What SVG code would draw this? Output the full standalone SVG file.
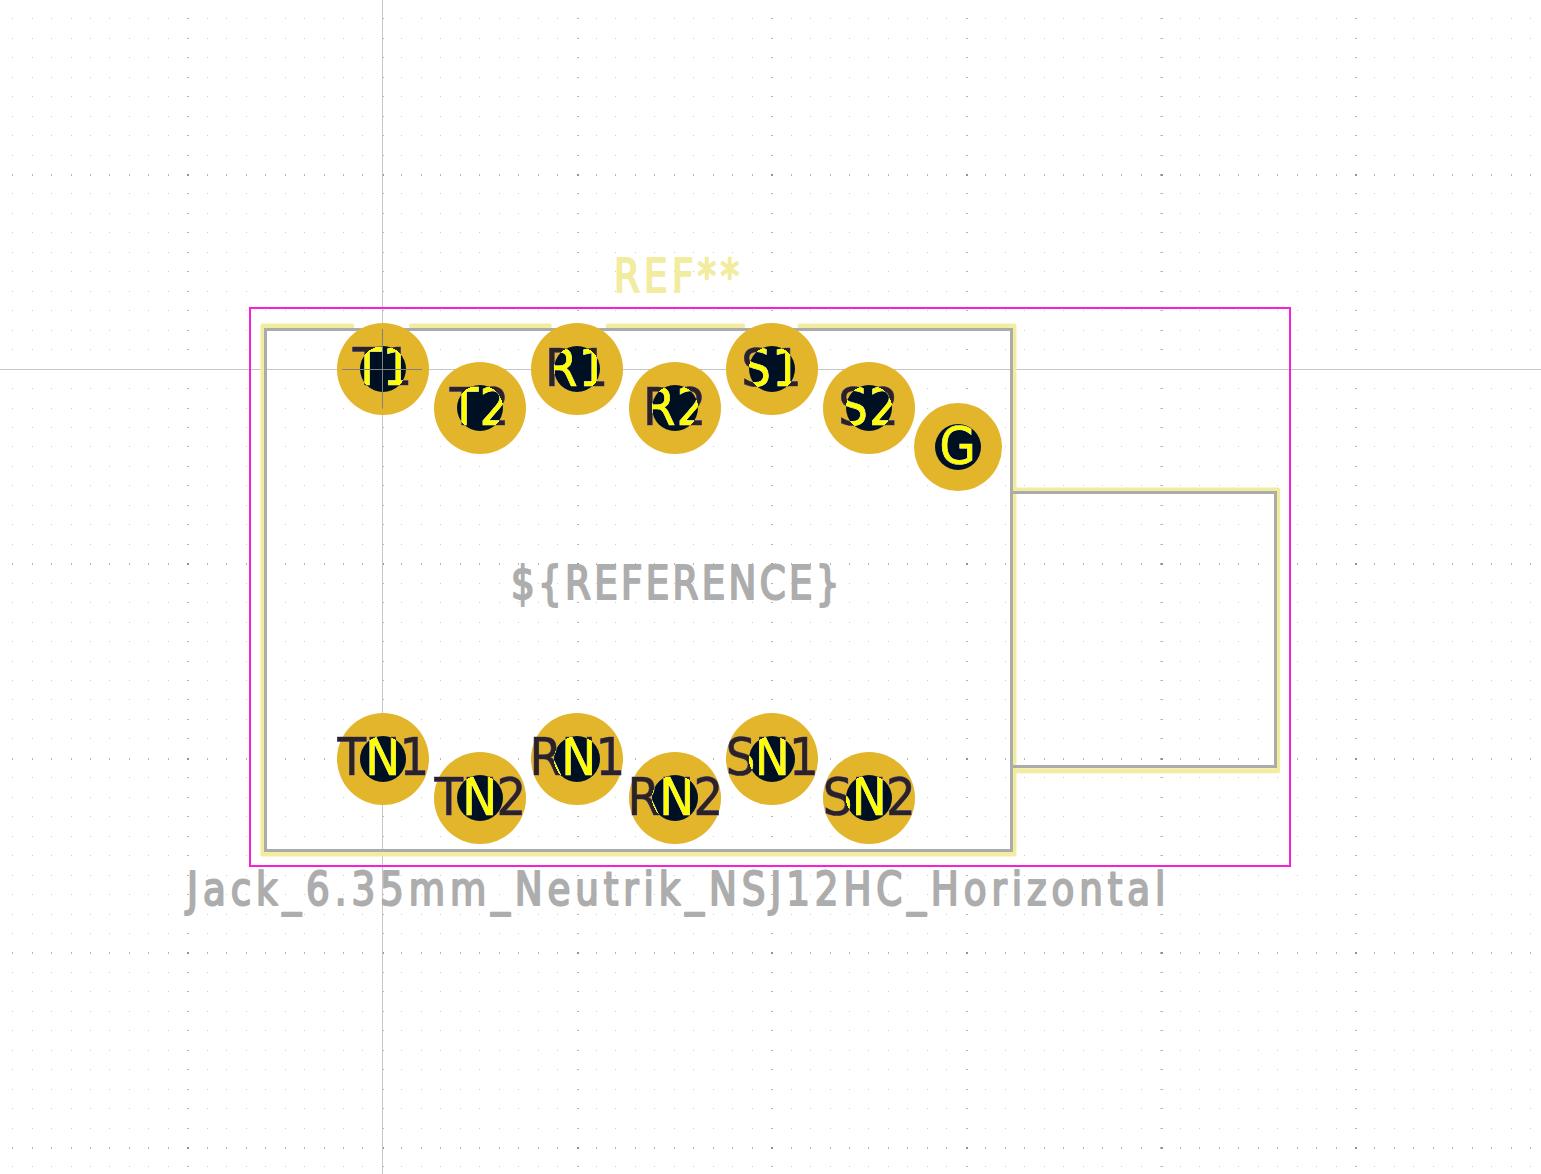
<svg xmlns="http://www.w3.org/2000/svg" width="1541" height="1174" viewBox="0 0 1541 1174">
<style>
.silk{fill:none;stroke:#f2eca0;stroke-width:5;stroke-linecap:round;stroke-linejoin:round}
.fab{fill:none;stroke:#ababab;stroke-width:3}
.court{fill:none;stroke:#f61fdb;stroke-width:2}
.cross{fill:none;stroke:#c6c6c6;stroke-width:1}
.pad{fill:#e2b52b}
.hole{fill:#001023}
.num{font-family:"DejaVu Sans",sans-serif;font-stretch:condensed;font-size:52px;letter-spacing:1px;text-anchor:middle;fill:url(#numFill);stroke:url(#numEdge);stroke-width:.7;paint-order:stroke}
.num3{letter-spacing:-.7px}
.lbl{font-family:"DejaVu Sans",sans-serif;font-stretch:condensed;font-size:46px;fill:#adadad;stroke:#adadad;stroke-width:2;stroke-linejoin:round}
.ref{fill:#f2eca0;stroke:#f2eca0}
.minor{fill:none;stroke:#cfcfcf;stroke-width:1;stroke-dasharray:1 19 1 18 1 19 1 18 1 18 1 19 1 18 1 19 1 18 1 19 1 18 1 19 1 18}
.majorcol{fill:none;stroke:#b4b4b4;stroke-width:1;stroke-dasharray:2 193 2 193 2 192;stroke-dashoffset:-175}
.majorrow{fill:none;stroke:#b4b4b4;stroke-width:2;stroke-dasharray:1 19 1 18 1 19 1 18 1 18 1 19 1 18 1 19 1 18 1 19 1 18 1 19 1 18}
.majorx{fill:none;stroke:#939393;stroke-width:2;stroke-dasharray:2 193 2 193 2 192;stroke-dashoffset:-175}
</style>
<defs>
<radialGradient id="numFill" gradientUnits="userSpaceOnUse" cx="0" cy="0" r="46"><stop offset="0.5" stop-color="#ffff00"/><stop offset="0.5" stop-color="#2b2320"/></radialGradient>
<radialGradient id="numEdge" gradientUnits="userSpaceOnUse" cx="0" cy="0" r="46"><stop offset="0.5" stop-color="#ffffff"/><stop offset="0.5" stop-color="#4a35d0"/></radialGradient>
<path id="rows" d="M12 18.5H1541M12 38.5H1541M12 57.5H1541M12 77.5H1541M12 96.5H1541M12 116.5H1541M12 135.5H1541M12 155.5H1541M12 193.5H1541M12 213.5H1541M12 232.5H1541M12 252.5H1541M12 271.5H1541M12 291.5H1541M12 310.5H1541M12 330.5H1541M12 349.5H1541M12 388.5H1541M12 408.5H1541M12 427.5H1541M12 446.5H1541M12 466.5H1541M12 485.5H1541M12 505.5H1541M12 524.5H1541M12 544.5H1541M12 583.5H1541M12 602.5H1541M12 622.5H1541M12 641.5H1541M12 661.5H1541M12 680.5H1541M12 699.5H1541M12 719.5H1541M12 738.5H1541M12 777.5H1541M12 797.5H1541M12 816.5H1541M12 836.5H1541M12 855.5H1541M12 875.5H1541M12 894.5H1541M12 914.5H1541M12 933.5H1541M12 972.5H1541M12 991.5H1541M12 1011.5H1541M12 1030.5H1541M12 1050.5H1541M12 1069.5H1541M12 1089.5H1541M12 1108.5H1541M12 1128.5H1541M12 1166.5H1541"/>
<path id="bigrows" d="M12 175H1541M12 564H1541M12 759H1541M12 953H1541M12 1148H1541"/>
</defs>
<rect width="1541" height="1174" fill="#ffffff"/>
<g id="grid">
<use href="#rows" class="minor"/>
<use href="#rows" class="majorcol"/>
<use href="#bigrows" class="majorrow"/>
<use href="#bigrows" class="majorx"/>
</g>
<g id="origin-lines">
<path class="cross" d="M382.5 0V1174M0 369.5H1541"/>
</g>
<g id="outlines">
<path class="silk" d="M352 326H263V854H1014V326H800M742.700 326H608M549.300 326H411.700M1014 490H1277.700V770.700H1014"/>
<path class="fab" d="M265.500 329.500H1011.500V850.500H265.500ZM1013 492.500H1275.500V766.500H1013"/>
<rect class="court" x="250" y="308" width="1040" height="558"/>
</g>
<g id="labels">
<text id="ref" class="lbl ref" transform="translate(614 292) scale(.9 1)" textLength="139">REF**</text>
<text id="value" class="lbl" transform="translate(511 599) scale(.9 1)" textLength="365">${REFERENCE}</text>
<text id="name" class="lbl" transform="translate(187 904.500) scale(.9 1)" textLength="1087">Jack_6.35mm_Neutrik_NSJ12HC_Horizontal</text>
</g>
<g id="pad-T1" transform="translate(383 369)"><circle class="pad" r="46"/><circle class="hole" r="23"/><text class="num" y="16">T1</text></g>
<g id="pad-T2" transform="translate(480 408)"><circle class="pad" r="46"/><circle class="hole" r="23"/><text class="num" y="17">T2</text></g>
<g id="pad-R1" transform="translate(577 369)"><circle class="pad" r="46"/><circle class="hole" r="23"/><text class="num" y="17">R1</text></g>
<g id="pad-R2" transform="translate(675 408)"><circle class="pad" r="46"/><circle class="hole" r="23"/><text class="num" y="17">R2</text></g>
<g id="pad-S1" transform="translate(772 369)"><circle class="pad" r="46"/><circle class="hole" r="23"/><text class="num" y="17">S1</text></g>
<g id="pad-S2" transform="translate(869 408)"><circle class="pad" r="46"/><circle class="hole" r="23"/><text class="num" y="17">S2</text></g>
<g id="pad-G" transform="translate(958 447)"><circle class="pad" r="44"/><circle class="hole" r="23"/><text class="num" y="17">G</text></g>
<g id="pad-TN1" transform="translate(383 759)"><circle class="pad" r="46"/><circle class="hole" r="23"/><text class="num num3" y="16">TN1</text></g>
<g id="pad-TN2" transform="translate(480 798)"><circle class="pad" r="46"/><circle class="hole" r="23"/><text class="num num3" y="17">TN2</text></g>
<g id="pad-RN1" transform="translate(577 759)"><circle class="pad" r="46"/><circle class="hole" r="23"/><text class="num num3" y="16">RN1</text></g>
<g id="pad-RN2" transform="translate(675 798)"><circle class="pad" r="46"/><circle class="hole" r="23"/><text class="num num3" y="17">RN2</text></g>
<g id="pad-SN1" transform="translate(772 759)"><circle class="pad" r="46"/><circle class="hole" r="23"/><text class="num num3" y="16">SN1</text></g>
<g id="pad-SN2" transform="translate(869 798)"><circle class="pad" r="46"/><circle class="hole" r="23"/><text class="num num3" y="17">SN2</text></g>
<g id="origin-marker"><path fill="none" stroke="#808080" stroke-width="1" d="M382.500 329V408.500M342 369.500H422"/></g>
<g id="connectors"></g>
</svg>
